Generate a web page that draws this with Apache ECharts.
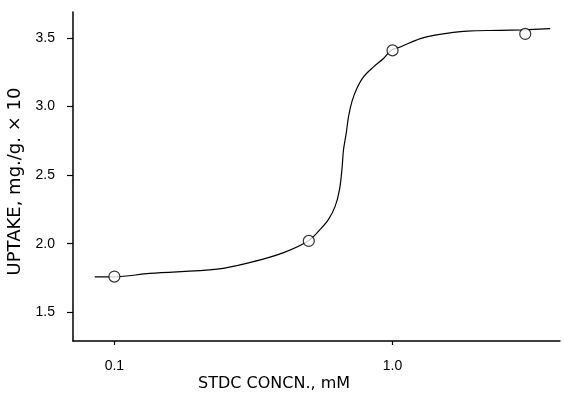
<!DOCTYPE html>
<html><head><meta charset="utf-8">
<script src="https://cdn.jsdelivr.net/npm/echarts@6/dist/echarts.min.js"></script>
<style>html,body{margin:0;padding:0;background:#fff}#c{width:564px;height:396px}</style>
</head><body><div id="c"></div>
<script>
// measured points (open circles)
const concn = [0.1, 0.5, 1.0, 3.0];
const uptake = [1.76, 2.02, 3.41, 3.53];
// hand-drawn fitted curve
const curveX = [0.085, 0.1, 0.134, 0.234, 0.308, 0.406, 0.499, 0.5495, 0.5886, 0.6222, 0.6447, 0.6577, 0.6664, 0.6817, 0.6947, 0.7145, 0.7447, 0.7864, 0.8545, 0.928, 0.99, 1.066, 1.258, 1.404, 1.852, 2.44, 2.95, 3.69];
const curveY = [1.758, 1.758, 1.783, 1.814, 1.863, 1.935, 2.021, 2.104, 2.177, 2.274, 2.395, 2.540, 2.685, 2.806, 2.927, 3.036, 3.133, 3.217, 3.290, 3.351, 3.411, 3.435, 3.496, 3.52, 3.551, 3.556, 3.56, 3.568];
const yTicks = [1.5, 2.0, 2.5, 3.0, 3.5];
const xTicks = [0.1, 1.0];

const FONT = 'Liberation Sans';
const NAMEFONT = 'DejaVu Sans';
const chart = echarts.init(document.getElementById('c'), null, {renderer: 'canvas'});
chart.setOption({
  animation: false,
  backgroundColor: '#fff',
  grid: {left: 73, right: 4, top: 12, bottom: 55, containLabel: false, outerBoundsMode: 'none'},
  xAxis: {
    type: 'log', logBase: 10, min: 0.071, max: 4.0,
    axisLine: {lineStyle: {color: '#000', width: 1.5}},
    axisTick: {show: true, length: 4, lineStyle: {color: '#000', width: 1.2}, customValues: xTicks},
    axisLabel: {color: '#000', fontFamily: FONT, fontSize: 14, margin: 18, customValues: xTicks,
      formatter: v => Number(v).toFixed(1)},
    minorTick: {show: false},
    splitLine: {show: false}
  },
  yAxis: {
    type: 'value', min: 1.29, max: 3.69,
    name: 'UPTAKE, mg./g. × 10', nameLocation: 'middle', nameGap: 42,
    nameTextStyle: {color: '#000', fontFamily: NAMEFONT, fontSize: 18, padding: [0, 10, 0, 0]},
    axisLine: {lineStyle: {color: '#000', width: 1.5}},
    axisTick: {show: true, length: 6, lineStyle: {color: '#000', width: 1.2}, customValues: yTicks},
    axisLabel: {color: '#000', fontFamily: FONT, fontSize: 14, margin: 18, customValues: yTicks,
      formatter: v => Number(v).toFixed(1)},
    splitLine: {show: false}
  },
  graphic: [{
    type: 'text', left: 198, top: 376,
    style: {text: 'STDC CONCN., mM', fill: '#000', font: '16px "' + NAMEFONT + '"'}
  }],
  series: [
    {type: 'line', data: curveX.map((x, i) => [x, curveY[i]]), smooth: 0.35, showSymbol: false,
     lineStyle: {color: '#000', width: 1.2}, z: 2},
    {type: 'scatter', data: concn.map((x, i) => [x, uptake[i]]), symbol: 'circle', symbolSize: 11,
     itemStyle: {color: '#fff', borderColor: '#000', borderWidth: 1.2}, z: 3}
  ]
});
</script></body></html>
